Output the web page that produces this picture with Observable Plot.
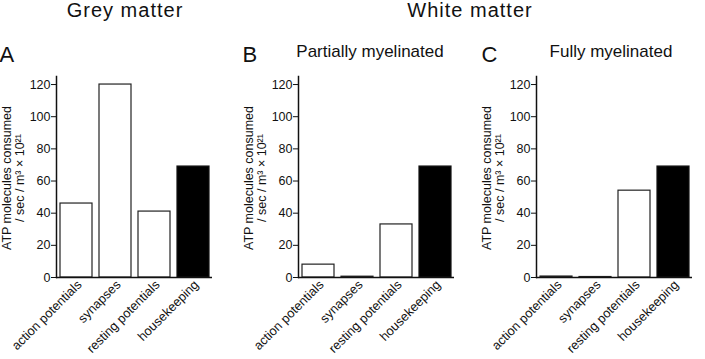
<!DOCTYPE html>
<html>
<head>
<meta charset="utf-8">
<script src="https://cdn.jsdelivr.net/npm/d3@7"></script>
<script src="https://cdn.jsdelivr.net/npm/@observablehq/plot@0.6"></script>
<style>
  html, body { margin: 0; padding: 0; background: #fff; }
  #root { position: relative; width: 705px; height: 359px; overflow: hidden; font-family: "Liberation Sans", Arial, sans-serif; color: #111; }
  .panel { position: absolute; top: 0; }
  .txt { position: absolute; white-space: nowrap; color: #111; }
  .big { font-size: 20px; line-height: 20px; letter-spacing: 1px; transform: translateX(-50%); top: 0px; }
  .letter { font-size: 22px; line-height: 22px; top: 44px; }
  .sub { font-size: 17px; line-height: 17px; transform: translateX(-50%); top: 42.5px; }
</style>
</head>
<body>
<div id="root"></div>
<script>
// ---- data ----
const categories = ["action potentials", "synapses", "resting potentials", "housekeeping"];
const greyMatter = [46, 120, 41, 69];
const partiallyMyelinated = [8, 0.5, 33, 69];
const fullyMyelinated = [0.6, 0.3, 54, 69];
const yTicks = [0, 20, 40, 60, 80, 100, 120];
const yTitle = "ATP molecules consumed\n/ sec / m\u00B3 \u00D7 10\u00B2\u00B9";
const groupTitles = ["Grey matter", "White matter"];
const panelLetters = ["A", "B", "C"];
const panelSubtitles = ["", "Partially myelinated", "Fully myelinated"];

const root = document.getElementById("root");

function panel(values) {
  const data = categories.map((c, i) => ({cat: c, value: values[i]}));
  return Plot.plot({
    width: 225,
    height: 359,
    marginLeft: 56,
    marginRight: 13,
    marginTop: 76,
    marginBottom: 82,
    style: {fontFamily: '"Liberation Sans", Arial, sans-serif', color: "#111", background: "transparent"},
    x: {domain: categories, paddingInner: 0.18, paddingOuter: 0.08},
    y: {domain: [0, 125]},
    marks: [
      Plot.barY(data.filter(d => d.cat !== "housekeeping"), {x: "cat", y: "value", fill: "white", stroke: "#222", strokeWidth: 1.2}),
      Plot.barY(data.filter(d => d.cat === "housekeeping"), {x: "cat", y: "value", fill: "black", stroke: "#111", strokeWidth: 1.2}),
      Plot.frame({anchor: "left", stroke: "#111", strokeWidth: 1.5}),
      Plot.ruleY([0], {stroke: "#111", strokeWidth: 1.5}),
      Plot.axisY({ticks: yTicks, tickSize: 5, tickPadding: 1, label: null, fontSize: 12.5, tickFormat: d => String(d)}),
      Plot.axisX({tickRotate: -45, tickSize: 0, tickPadding: 5, label: null, fontSize: 12.8, dx: 3}),
      Plot.text([yTitle], {frameAnchor: "left", textAnchor: "middle", lineAnchor: "middle", rotate: -90, dx: -43.5, dy: 1, fontSize: 12.5, lineHeight: 1.05, fill: "#111"})
    ]
  });
}

const lefts = [0, 242, 480];
[greyMatter, partiallyMyelinated, fullyMyelinated].forEach((vals, i) => {
  const div = document.createElement("div");
  div.className = "panel";
  div.style.left = lefts[i] + "px";
  div.appendChild(panel(vals));
  root.appendChild(div);
});

function addText(cls, text, left) {
  const d = document.createElement("div");
  d.className = "txt " + cls;
  d.textContent = text;
  d.style.left = left + "px";
  root.appendChild(d);
}
addText("big", groupTitles[0], 125);
addText("big", groupTitles[1], 470);
[-0.5, 242.5, 481.5].forEach((l, i) => addText("letter", panelLetters[i], l));
addText("sub", panelSubtitles[1], 370);
addText("sub", panelSubtitles[2], 611);
</script>
</body>
</html>
